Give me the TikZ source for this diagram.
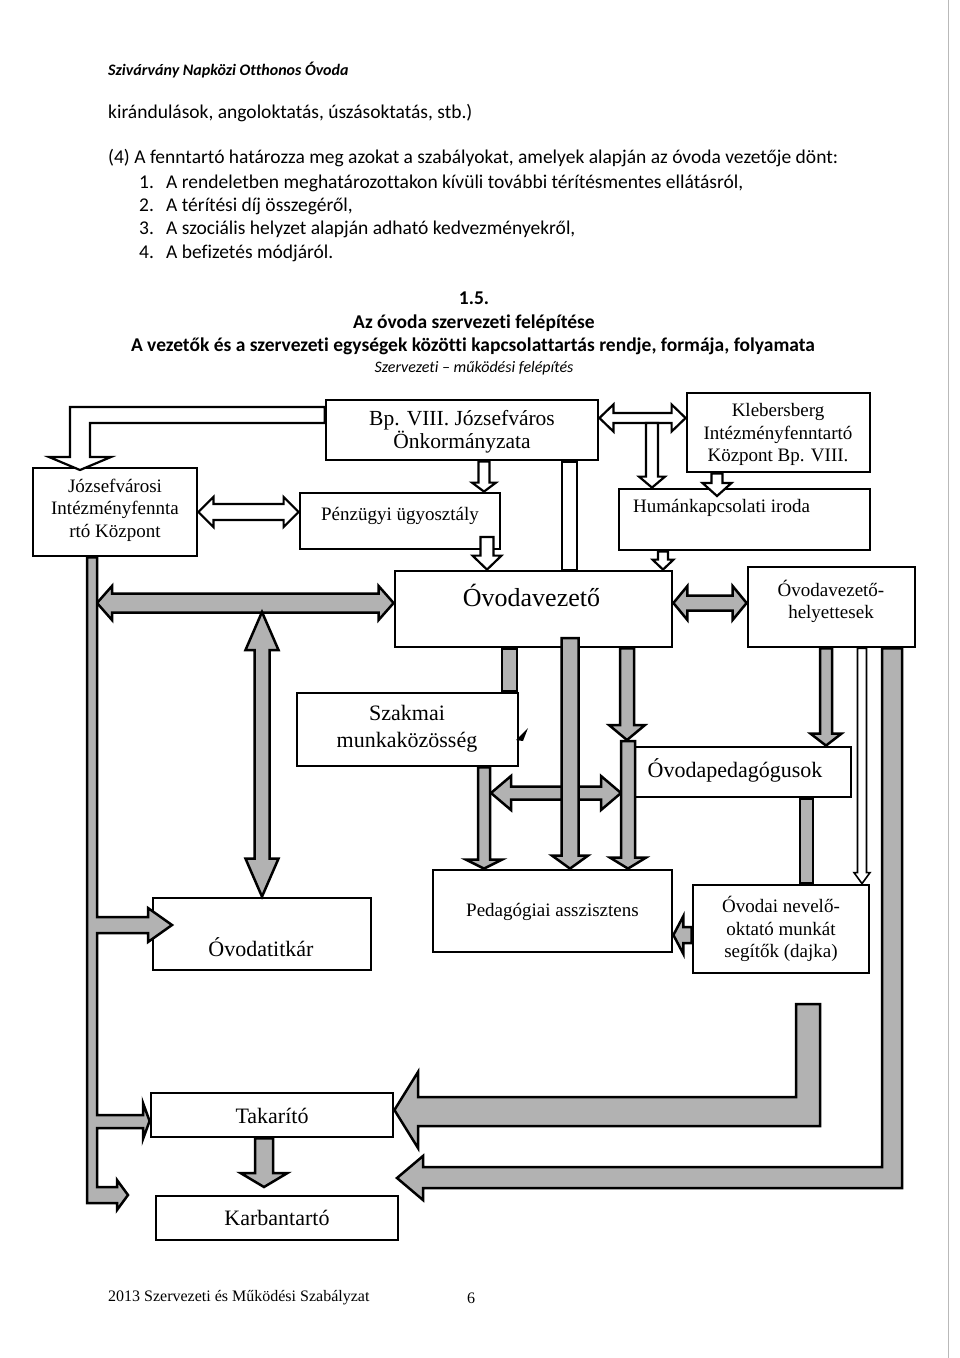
\documentclass[tikz,border=0pt]{standalone}
\usepackage{fontspec}
\setmainfont{Liberation Serif}
\newfontfamily\calfont[Ligatures=CommonOff]{Carlito}
\usetikzlibrary{calc}

\definecolor{bargray}{RGB}{178,178,178}

% block arrow, one head: from #2 to tip #3, shaft half width #4, head half width #5, head length #6
\newcommand{\sarrow}[6][garrow]{%
  \coordinate (hb) at ($(#3)!#6pt!(#2)$);
  \draw[#1] ($(#2)!#4pt!90:(#3)$) -- ($(hb)!#4pt!90:(#3)$) -- ($(hb)!#5pt!90:(#3)$) -- (#3)
    -- ($(hb)!#5pt!-90:(#3)$) -- ($(hb)!#4pt!-90:(#3)$) -- ($(#2)!#4pt!-90:(#3)$) -- cycle;}
% block arrow, two heads
\newcommand{\darrow}[6][garrow]{%
  \coordinate (ha) at ($(#2)!#6pt!(#3)$);
  \coordinate (hb) at ($(#3)!#6pt!(#2)$);
  \draw[#1] (#2) -- ($(ha)!#5pt!90:(#3)$) -- ($(ha)!#4pt!90:(#3)$) -- ($(hb)!#4pt!90:(#3)$)
    -- ($(hb)!#5pt!90:(#3)$) -- (#3) -- ($(hb)!#5pt!-90:(#3)$) -- ($(hb)!#4pt!-90:(#3)$)
    -- ($(ha)!#4pt!-90:(#3)$) -- ($(ha)!#5pt!-90:(#3)$) -- cycle;}

\newcommand{\boxtxt}{\fontsize{19}{22.5}\selectfont}
\newcommand{\bigtxt}{\fontsize{22}{27}\selectfont}
\newcommand{\bptxt}{\fontsize{21.5}{21}\selectfont}
\newcommand{\hdrtxt}{\calfont\fontsize{19.5}{23}\selectfont}

\begin{document}
\begin{tikzpicture}[x=1pt,y=-1pt,
    box/.style={draw,line width=2.8pt,inner sep=0pt},
    lbl/.style={align=center,inner sep=0pt,font=\boxtxt},
    biglbl/.style={align=center,inner sep=0pt,font=\bigtxt},
    hline/.style={anchor=base west,inner sep=0pt,font=\hdrtxt},
    ttl/.style={anchor=base,inner sep=0pt,font=\hdrtxt\bfseries},
    warrow/.style={draw,line width=2.2pt,fill=white,line join=miter},
    garrow/.style={draw,line width=2.5pt,fill=bargray,line join=miter}]

  \fill[white] (0,0) rectangle (960,1358);
  \useasboundingbox (0,0) rectangle (960,1358);
  \draw[gray!55,line width=0.8pt] (948,0) -- (948,1358);

  % page text
  \node[anchor=base west,inner sep=0pt,font=\calfont\fontsize{16}{19}\selectfont\bfseries\itshape] (school) at (108,75) {Szivárvány Napközi Otthonos Óvoda};
  \node[hline] (cont) at (108,118) {kirándulások, angoloktatás, úszásoktatás, stb.)};
  \node[hline] (par4) at (108,163) {(4) A fenntartó határozza meg azokat a szabályokat, amelyek alapján az óvoda vezetője dönt:};
  \node[hline] (n1) at (139,188) {1.};
  \node[hline] (t1) at (166,188) {A rendeletben meghatározottakon kívüli további térítésmentes ellátásról,};
  \node[hline] (n2) at (139,211) {2.};
  \node[hline] (t2) at (166,211) {A térítési díj összegéről,};
  \node[hline] (n3) at (139,234) {3.};
  \node[hline] (t3) at (166,234) {A szociális helyzet alapján adható kedvezményekről,};
  \node[hline] (n4) at (139,258) {4.};
  \node[hline] (t4) at (166,258) {A befizetés módjáról.};

  \node[ttl] (sec) at (474,304) {1.5.};
  \node[ttl] (ttl1) at (474,328) {Az óvoda szervezeti felépítése};
  \node[ttl] (ttl2) at (473,351) {A vezetők és a szervezeti egységek közötti kapcsolattartás rendje, formája, folyamata};
  \node[anchor=base,inner sep=0pt,font=\calfont\fontsize{16}{19}\selectfont\itshape] (subt) at (474,372) {Szervezeti – működési felépítés};

  % boxes
  \node[box,minimum width=272pt,minimum height=60pt] (bp) at (462,430) {};
  \node[box,minimum width=183pt,minimum height=79pt] (kleb) at (778.5,432.5) {};
  \node[box,minimum width=164pt,minimum height=88pt] (jozs) at (115,512) {};
  \node[box,minimum width=200pt,minimum height=56pt] (pz) at (400,521) {};
  \node[box,minimum width=251pt,minimum height=61pt] (human) at (744.5,519.5) {};
  \node[box,minimum width=277pt,minimum height=76pt] (ovez) at (533.5,609) {};
  \node[box,minimum width=167pt,minimum height=80pt] (hely) at (831.5,607) {};
  \node[box,minimum width=221pt,minimum height=73pt] (szak) at (407.5,729.5) {};
  \node[box,minimum width=223pt,minimum height=50pt] (oped) at (739.5,772) {};
  \node[box,minimum width=218pt,minimum height=72pt] (otit) at (262,934) {};
  \node[box,minimum width=239pt,minimum height=82pt] (pedas) at (552.5,911) {};
  \node[box,minimum width=176pt,minimum height=88pt] (dajka) at (781,929) {};
  \node[box,minimum width=242pt,minimum height=44pt] (tak) at (272,1115) {};
  \node[box,minimum width=242pt,minimum height=44pt] (karb) at (277,1218) {};

  \node[align=center,inner sep=0pt,font=\bptxt] (bpt) at (462,432) {Bp. VIII. Józsefváros\\Önkormányzata};
  \node[lbl] (klebt) at (778,434.5) {Klebersberg\\Intézményfenntartó\\Központ Bp. VIII.};
  \node[lbl] (jozst) at (115,510) {Józsefvárosi\\Intézményfennta\\rtó Központ};
  \node[lbl] (pzt) at (400,516) {Pénzügyi ügyosztály};
  \node[lbl,anchor=west] (humant) at (633,508) {Humánkapcsolati iroda};
  \node[inner sep=0pt,font=\fontsize{26}{30}\selectfont] (ovezt) at (531.5,595) {Óvodavezető};
  \node[lbl] (helyt) at (831,601.5) {Óvodavezető-\\helyettesek};
  \node[biglbl] (szakt) at (407,728.5) {Szakmai\\munkaközösség};
  \node[biglbl] (opedt) at (735,770) {Óvodapedagógusok};
  \node[biglbl] (otitt) at (261,947) {Óvodatitkár};
  \node[lbl] (pedast) at (552.5,912) {Pedagógiai asszisztens};
  \node[lbl] (dajkat) at (781,929) {Óvodai nevelő-\\oktató munkát\\segítők (dajka)};
  \node[biglbl] (takt) at (272,1116) {Takarító};
  \node[biglbl] (karbt) at (277,1218) {Karbantartó};

  \node[anchor=west,inner sep=0pt,font=\fontsize{16}{19}\selectfont] (foot) at (108,1298) {2013 Szervezeti és Működési Szabályzat};
  \node[inner sep=0pt,font=\fontsize{16}{19}\selectfont] (pg) at (471,1298) {6};

  % white arrows (fenntartok)
  \draw[warrow] (bp.west |- 0,407) -- (70,407) -- (70,457) -- (49,457) -- (80,470) -- (111,457)
    -- (90,457) -- (90,423) -- (bp.west |- 0,423) -- cycle;
  \darrow[warrow]{jozs.east}{jozs.east -| pz.west}{8}{15}{15}
  \sarrow[warrow]{484,0 |- bp.south}{484,0 |- pz.north}{5.5}{12}{9}
  \coordinate (pzo) at (487,537);
  \sarrow[warrow]{pzo}{487,0 |- ovez.north}{6.5}{14.5}{14}
  \draw[warrow] (562,0 |- bp.south) rectangle (577,0 |- ovez.north);
  \darrow[warrow]{bp.east |- 0,418}{kleb.west |- 0,418}{5}{13.5}{14}
  \coordinate (kj) at (652,423);
  \sarrow[warrow]{kj}{652,0 |- human.north}{6}{13}{11}
  \sarrow[warrow]{717,0 |- kleb.south}{717,496}{5.5}{14.5}{13}
  \sarrow[warrow]{663,0 |- human.south}{663,0 |- ovez.north}{5}{10.5}{10}

  % gray arrows
  \darrow{97,603}{ovez.west |- 0,603}{9.5}{17}{15}
  \darrow{262,612}{otit.north}{7.5}{16.5}{38}
  \draw[garrow] (87,0 |- jozs.south) -- (87,1203) -- (117,1203) -- (117,1210) -- (128,1195) -- (117,1180)
    -- (117,1187) -- (97,1187) -- (97,1128) -- (143,1128) -- (143,1139) -- (tak.west |- 0,1121)
    -- (143,1103) -- (143,1115) -- (97,1115) -- (97,933) -- (148,933) -- (148,942) -- (172,925)
    -- (148,908) -- (148,917) -- (97,917) -- (97,0 |- jozs.south) -- cycle;
  \darrow{ovez.east |- 0,603}{hely.west |- 0,603}{7.5}{17}{14}
  \draw[garrow] (502,0 |- ovez.south) rectangle (517,0 |- szak.north);
  \darrow{491,793}{621,793}{6.5}{17}{20}
  \sarrow{570,638}{570,0 |- pedas.north}{8.5}{18}{13}
  \sarrow{627,0 |- ovez.south}{627,740}{7}{18}{15}
  \sarrow{628,741}{628,0 |- pedas.north}{7}{18}{11}
  \sarrow{484,0 |- szak.south}{484,0 |- pedas.north}{6}{18}{9}
  \draw[garrow] (800,0 |- oped.south) rectangle (813,0 |- dajka.north);
  \sarrow{826,0 |- hely.south}{826,0 |- oped.north}{6}{15.5}{12}
  \sarrow[warrow,line width=1.6pt]{862,0 |- hely.south}{862,0 |- dajka.north}{4.5}{8}{11}
  \draw[garrow] (882,0 |- hely.south) -- (902,0 |- hely.south) -- (902,1188) -- (423,1188) -- (423,1200)
    -- (397,1178) -- (423,1156) -- (423,1167) -- (882,1167) -- cycle;
  \draw[garrow] (796,1004) -- (820,1004) -- (820,1126) -- (418,1126) -- (418,1148)
    -- (tak.east |- 0,1110) -- (418,1072) -- (418,1097) -- (796,1097) -- cycle;
  \sarrow{dajka.west |- 0,935}{pedas.east |- 0,935}{8}{19}{10}
  \sarrow{264,0 |- tak.south}{264,1187}{9}{23.5}{14}
  \fill (516,740) -- (528,728) -- (523,741) -- cycle;
\end{tikzpicture}
\end{document}
